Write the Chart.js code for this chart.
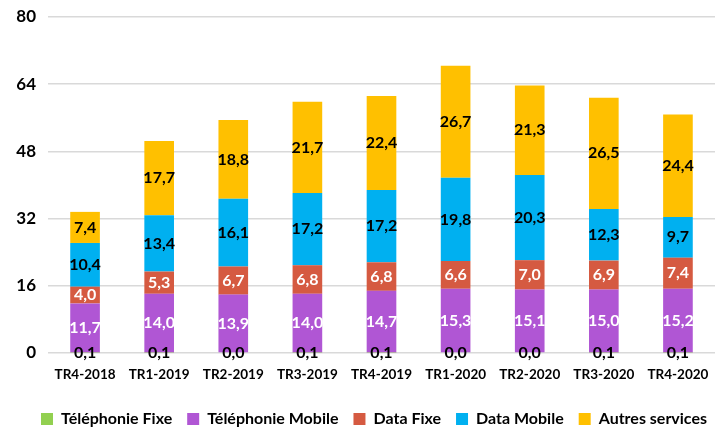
<!DOCTYPE html>
<html>
<head>
<meta charset="utf-8">
<script src="https://cdn.jsdelivr.net/npm/chart.js@4"></script>
<style>
  html, body { margin: 0; padding: 0; background: #fff; }
  #wrap { width: 715px; height: 429px; }
</style>
</head>
<body>
<div id="wrap"><canvas id="chart"></canvas></div>
<script>
const quarters = ["TR4-2018", "TR1-2019", "TR2-2019", "TR3-2019", "TR4-2019", "TR1-2020", "TR2-2020", "TR3-2020", "TR4-2020"];
const telFixe = [0.1, 0.1, 0.0, 0.1, 0.1, 0.0, 0.0, 0.1, 0.1];
const telMobile = [11.7, 14.0, 13.9, 14.0, 14.7, 15.3, 15.1, 15.0, 15.2];
const dataFixe = [4.0, 5.3, 6.7, 6.8, 6.8, 6.6, 7.0, 6.9, 7.4];
const dataMobile = [10.4, 13.4, 16.1, 17.2, 17.2, 19.8, 20.3, 12.3, 9.7];
const autres = [7.4, 17.7, 18.8, 21.7, 22.4, 26.7, 21.3, 26.5, 24.4];
const yTicks = [0, 16, 32, 48, 64, 80];

const FONT = "Lato, 'Open Sans', sans-serif";

// draws the value in the middle of each segment
const barLabels = {
  id: "barLabels",
  afterDatasetsDraw(chart) {
    const ctx = chart.ctx;
    ctx.save();
    ctx.font = "bold 16px " + FONT;
    ctx.textAlign = "center";
    ctx.textBaseline = "middle";
    chart.data.datasets.forEach((ds, i) => {
      const meta = chart.getDatasetMeta(i);
      if (meta.hidden) return;
      meta.data.forEach((bar, j) => {
        const p = bar.getProps(["x", "y", "base"], true);
        ctx.fillStyle = ds.labelColor;
        ctx.fillText(ds.data[j].toFixed(1).replace(".", ","), p.x, (p.y + p.base) / 2);
      });
    });
    ctx.restore();
  }
};

function series(label, data, color, labelColor) {
  return {
    label: label,
    data: data,
    backgroundColor: color,
    labelColor: labelColor,
    barPercentage: 0.4,
    categoryPercentage: 1.0
  };
}

new Chart(document.querySelector("#chart"), {
  type: "bar",
  data: {
    labels: quarters,
    datasets: [
      series("Téléphonie Fixe", telFixe, "#92d050", "#000"),
      series("Téléphonie Mobile", telMobile, "#b056d4", "#fff"),
      series("Data Fixe", dataFixe, "#d55a41", "#fff"),
      series("Data Mobile", dataMobile, "#00b0f0", "#000"),
      series("Autres services", autres, "#ffc000", "#000")
    ]
  },
  options: {
    responsive: true,
    maintainAspectRatio: false,
    animation: false,
    layout: { padding: { top: 17, right: -7, bottom: -8, left: 0 } },
    plugins: {
      tooltip: { enabled: false },
      legend: {
        position: "bottom",
        align: "end",
        labels: {
          color: "#000",
          font: { family: FONT, size: 16, weight: "bold" },
          boxWidth: 12,
          boxHeight: 12,
          padding: 15
        }
      }
    },
    scales: {
      x: {
        stacked: true,
        afterFit: s => { s.height = 43; },
        grid: { display: false },
        border: { display: false },
        ticks: {
          color: "#000",
          font: { family: FONT, size: 13.5, weight: "bold" },
          padding: 6,
          maxRotation: 0
        }
      },
      y: {
        stacked: true,
        min: 0,
        max: 80,
        afterFit: s => { s.width = 48; s.paddingTop = 0; },
        afterBuildTicks: s => { s.ticks = yTicks.map(v => ({ value: v })); },
        grid: { color: "#d9d9d9", lineWidth: 1.5, drawTicks: false },
        border: { display: false },
        ticks: {
          color: "#000",
          font: { family: FONT, size: 17, weight: "bold" },
          padding: 12
        }
      }
    }
  },
  plugins: [barLabels]
});
</script>
</body>
</html>
